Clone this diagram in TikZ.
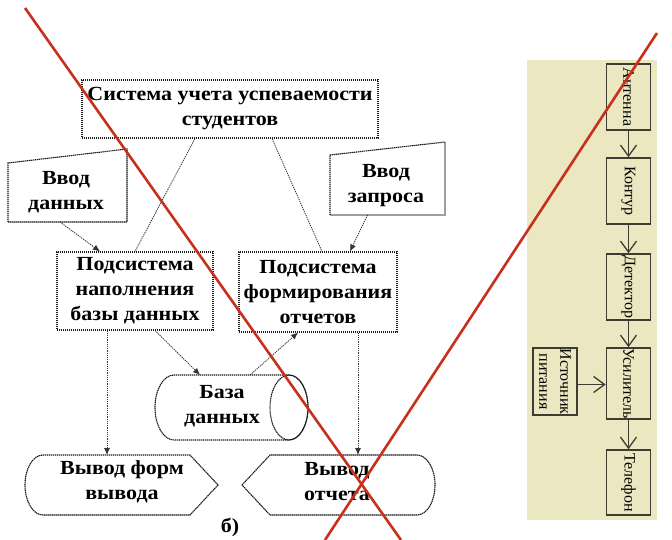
\documentclass[tikz,border=0pt]{standalone}
\usepackage{fontspec}
\setmainfont{Liberation Serif}
\newfontfamily\widefont{Liberation Serif}[FakeStretch=1.1]
\usetikzlibrary{arrows.meta}
\definecolor{redx}{RGB}{200,48,28}
\definecolor{panel}{RGB}{235,231,192}
\definecolor{boxgray}{RGB}{60,60,50}
\begin{document}
\begin{tikzpicture}[x=1pt,y=-1pt,
  dbox/.style={draw=black!90, line width=1.1pt, dash pattern=on 1.4pt off 0.6pt},
  dline/.style={draw=black!80, line width=0.8pt, dash pattern=on 1.3pt off 0.9pt},
  darrow/.style={dline, -{Latex[length=7pt,width=6pt]}},
  ttxt/.style={inner sep=0pt, align=center, font=\widefont\bfseries\fontsize{20}{25}\selectfont},
  hole/.style={inner sep=0pt, outer sep=0pt},
  rbox/.style={draw=boxgray, line width=1.6pt, inner sep=0pt, minimum width=44pt},
  rtxt/.style={rotate=-90, inner sep=0pt, align=center, text=black, font=\fontsize{16}{21}\selectfont},
  rarrow/.style={draw=boxgray, line width=1.3pt, -{Straight Barb[length=11pt,width=16pt,line width=1.3pt]}},
  redline/.style={draw=redx, line width=2.6pt}
]
\useasboundingbox (0,0) rectangle (672,540);

% ---------- left diagram ----------
\node[dbox, ttxt, minimum width=296pt, minimum height=58pt] (sys) at (230,109) {Система учета успеваемости\\студентов};

\node[hole, minimum width=119pt, minimum height=73pt] (vd) at (67.5,185.5) {};
\draw[dbox] (vd.south west) -- ([yshift=-14pt]vd.north west) -- (vd.north east) -- (vd.south east) -- cycle;
\node[ttxt] (vdt) at (66,192) {Ввод\\данных};

\node[hole, minimum width=115pt, minimum height=73pt] (vz) at (387.5,178.5) {};
\draw[dbox] (vz.south west) -- ([yshift=-13pt]vz.north west) -- (vz.north east) -- (vz.south east) -- cycle;
\node[ttxt] (vzt) at (386,186) {Ввод\\запроса};

\node[dbox, ttxt, minimum width=156pt, minimum height=78pt] (pn) at (135,291) {Подсистема\\наполнения\\базы данных};
\node[dbox, ttxt, minimum width=158pt, minimum height=80pt] (pf) at (318,292) {Подсистема\\формирования\\отчетов};

% database cylinder
\node[hole, minimum width=153pt, minimum height=65pt] (db) at (231.5,407.5) {};
\draw[dbox] ([xshift=19pt]db.north west) -- ([xshift=-19pt]db.north east) arc (90:-90:19pt and 32.5pt) -- ([xshift=19pt]db.south west) arc (270:90:19pt and 32.5pt) -- cycle;
\draw[dbox] ([xshift=-19pt]db.east) ellipse [x radius=19pt, y radius=32.5pt];
\node[ttxt] (dbt) at (222,406) {База\\данных};

% displays
\node[hole, minimum width=193pt, minimum height=60pt] (vf) at (121.5,485) {};
\draw[dbox] ([xshift=18pt]vf.north west) -- ([xshift=-28pt]vf.north east) -- (vf.east) -- ([xshift=-28pt]vf.south east) -- ([xshift=18pt]vf.south west) arc (270:90:18pt and 30pt) -- cycle;
\node[ttxt] (vft) at (122,482) {Вывод форм\\вывода};

\node[hole, minimum width=193pt, minimum height=60pt] (vo) at (338.5,485) {};
\draw[dbox] (vo.west) -- ([xshift=28pt]vo.north west) -- ([xshift=-18pt]vo.north east) arc (90:-90:18pt and 30pt) -- ([xshift=28pt]vo.south west) -- cycle;
\node[ttxt] (vot) at (337,482) {Вывод\\отчета};

\node[ttxt] (lbl) at (230,527) {б)};

% connectors
\draw[dline] ([xshift=-35pt]sys.south) -- (pn.north);
\draw[dline] ([xshift=42pt]sys.south) -- ([xshift=4pt]pf.north);
\draw[darrow] ([xshift=-7.5pt]vd.south) -- ([xshift=-35pt]pn.north);
\draw[darrow] ([xshift=-20pt]vz.south) -- ([xshift=32pt]pf.north);
\draw[darrow] ([xshift=20pt]pn.south) -- ([xshift=-31.5pt]db.north);
\draw[darrow] ([xshift=18.5pt]db.north) -- ([xshift=-20pt]pf.south);
\draw[darrow] ([xshift=-28pt]pn.south) -- ([xshift=-28pt]pn.south |- vf.north);
\draw[darrow] ([xshift=40pt]pf.south) -- ([xshift=40pt]pf.south |- vo.north);

% ---------- right panel ----------
\fill[panel] (527,60) rectangle (657,520);
\node[rbox, minimum height=66pt] (ant) at (628.5,97) {};
\node[rbox, minimum height=66pt] (kon) at (628.5,191) {};
\node[rbox, minimum height=66pt] (det) at (628.5,287) {};
\node[rbox, minimum height=71pt] (us) at (628.5,383.5) {};
\node[rbox, minimum height=65pt] (tel) at (628.5,482.5) {};
\node[rbox, minimum height=67pt] (ist) at (555,381.5) {};
\node[rtxt] (antt) at (ant.center) {Антенна};
\node[rtxt] (kont) at (kon.center) {Контур};
\node[rtxt] (dett) at (det.center) {Детектор};
\node[rtxt] (ust) at (us.center) {Усилитель};
\node[rtxt] (telt) at (tel.center) {Телефон};
\node[rtxt] (istt) at (ist.center) {Источник\\питания};
\draw[rarrow] (ant.south) -- (kon.north);
\draw[rarrow] (kon.south) -- (det.north);
\draw[rarrow] (det.south) -- (us.north);
\draw[rarrow] (us.south) -- (tel.north);
\draw[rarrow] ([yshift=-3pt]ist.east) -- ([yshift=-3pt]ist.east -| us.west);

% ---------- red cross lines ----------
\coordinate (r1a) at (25,8);
\coordinate (r1b) at (401,540);
\coordinate (r2a) at (657,33);
\coordinate (r2b) at (325,540);
\draw[redline] (r1a) -- (r1b);
\draw[redline] (r2a) -- (r2b);
\end{tikzpicture}
\end{document}
